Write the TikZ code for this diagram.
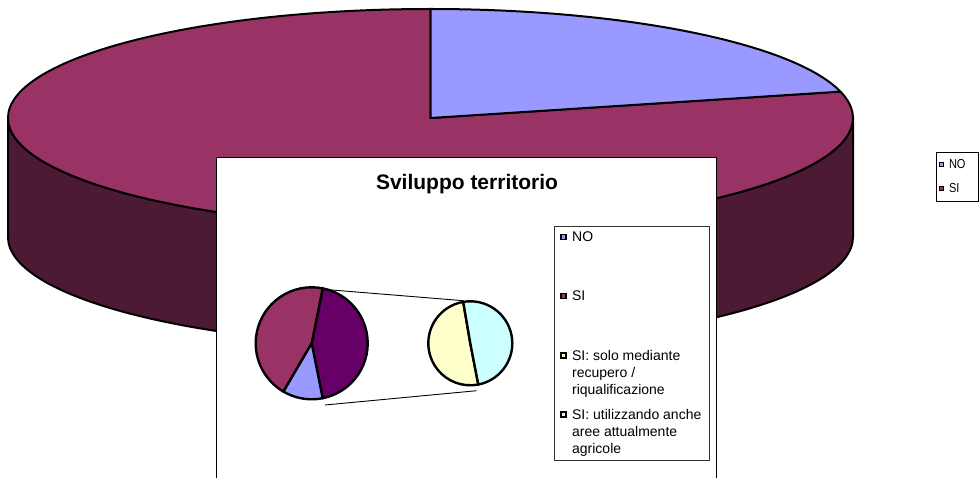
\documentclass[tikz,border=0pt]{standalone}
\usepackage{fontspec}
\setmainfont{Liberation Sans}
\newfontfamily\narrowfont[FakeStretch=0.85]{Liberation Sans}
\usetikzlibrary{positioning}

\definecolor{siMaroon}{HTML}{993366}
\definecolor{siSide}{HTML}{4C1A33}
\definecolor{noBlue}{HTML}{9999FF}
\definecolor{siPurple}{HTML}{660066}
\definecolor{soloYellow}{HTML}{FFFFCC}
\definecolor{agriCyan}{HTML}{CCFFFF}

\begin{document}
\begin{tikzpicture}[x=1pt,y=1pt,
    pieline/.style={draw=black,line width=2pt,line join=round},
    smallpie/.style={draw=black,line width=2.4pt,line join=round},
    joinline/.style={draw=black,line width=0.9pt},
    legmark/.style={draw=black,line width=1.9pt,minimum size=5pt,inner sep=0pt},
    legtext/.style={inner sep=0pt,font=\fontsize{14}{17}\selectfont,align=left},
    outtext/.style={inner sep=0pt,font=\narrowfont\fontsize{13}{15}\selectfont}]
    \useasboundingbox (0,0) rectangle (980,477);
    % big pie
    \coordinate (cBig) at (430.5,359);
    \filldraw[pieline,fill=siSide] (8,359) -- (8,240)
        arc[start angle=180,end angle=360,x radius=422.5,y radius=109]
        -- (853,359)
        arc[start angle=0,end angle=-180,x radius=422.5,y radius=109] -- cycle;
    \filldraw[pieline,fill=siMaroon] (cBig) -- ++(90:422.5 and 109)
        arc[start angle=90,end angle=374,x radius=422.5,y radius=109] -- cycle;
    \filldraw[pieline,fill=noBlue] (cBig) -- ++(14:422.5 and 109)
        arc[start angle=14,end angle=90,x radius=422.5,y radius=109] -- cycle;

    % inner chart
    \draw[fill=white,line width=1pt] (216,-10) rectangle (716,319);
    \node[font=\fontsize{21}{25}\selectfont\bfseries,anchor=base] (title) at (467,287) {Sviluppo territorio};

    \coordinate (cLeft) at (311.7,133.7);
    \coordinate (cRight) at (470.3,133.7);
    \filldraw[smallpie,fill=siPurple] (cLeft) -- ++(-78.7:56) arc[start angle=-78.7,end angle=78.7,radius=56] -- cycle;
    \filldraw[smallpie,fill=siMaroon] (cLeft) -- ++(78.7:56) arc[start angle=78.7,end angle=239.7,radius=56] -- cycle;
    \filldraw[smallpie,fill=noBlue] (cLeft) -- ++(239.7:56) arc[start angle=239.7,end angle=281.3,radius=56] -- cycle;
    \filldraw[smallpie,fill=soloYellow] (cRight) -- ++(99.7:42) arc[start angle=99.7,end angle=281,radius=42] -- cycle;
    \filldraw[smallpie,fill=agriCyan] (cRight) -- ++(-79:42) arc[start angle=-79,end angle=99.7,radius=42] -- cycle;

    \coordinate (lTop) at (323.3,187.7);
    \coordinate (rTop) at (463.3,176.3);
    \coordinate (lBot) at (325,72);
    \coordinate (rBot) at (476.7,86.3);
    \draw[joinline] (lTop) -- (rTop);
    \draw[joinline] (lBot) -- (rBot);

    % inner legend
    \draw[line width=0.9pt,draw=black!80] (554.3,16.3) rectangle (709,251);
    \node[legmark,fill=noBlue] (mNO) at (563.5,240) {};
    \node[legmark,fill=siMaroon] (mSI) at (563.5,181) {};
    \node[legmark,fill=soloYellow] (mSolo) at (563.5,121.7) {};
    \node[legmark,fill=agriCyan] (mAgri) at (563.5,62.5) {};
    \node[legtext,anchor=north west] (tNO) at ([xshift=5pt,yshift=5.5pt]mNO.east) {NO};
    \node[legtext,anchor=north west] (tSI) at ([xshift=5pt,yshift=5.5pt]mSI.east) {SI};
    \node[legtext,anchor=north west] (tSolo) at ([xshift=5pt,yshift=5.5pt]mSolo.east) {SI: solo mediante\\recupero /\\riqualificazione};
    \node[legtext,anchor=north west] (tAgri) at ([xshift=5pt,yshift=5.5pt]mAgri.east) {SI: utilizzando anche\\aree attualmente\\agricole};

    % outer legend
    \draw[line width=0.8pt] (936,276) rectangle (978,325);
    \node[legmark,fill=noBlue,minimum size=4pt,line width=1.6pt] (mOutNO) at (941.5,312.5) {};
    \node[legmark,fill=siMaroon,minimum size=4pt,line width=1.6pt] (mOutSI) at (941.5,288.5) {};
    \node[outtext,right=4.5pt of mOutNO] (tOutNO) {NO};
    \node[outtext,right=4.5pt of mOutSI] (tOutSI) {SI};
\end{tikzpicture}
\end{document}
